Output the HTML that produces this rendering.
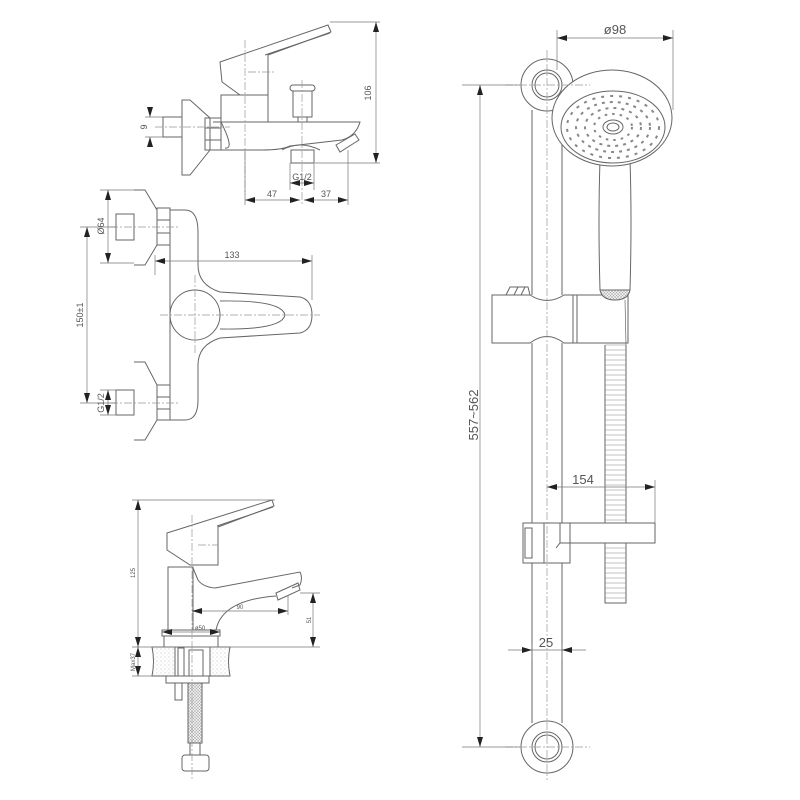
<!DOCTYPE html>
<html><head><meta charset="utf-8"><style>
html,body{margin:0;padding:0;background:#fff}
svg{display:block}
text{font-family:"Liberation Sans",sans-serif;fill:#555}
</style></head><body>
<svg width="800" height="800" viewBox="0 0 800 800" xmlns="http://www.w3.org/2000/svg">
<defs>
<marker id="a" viewBox="0 0 10 6" refX="10" refY="3" markerWidth="10" markerHeight="6" orient="auto-start-reverse" markerUnits="userSpaceOnUse"><path d="M0,0L10,3L0,6z" fill="#222"/></marker>
<pattern id="st" width="4" height="4" patternUnits="userSpaceOnUse"><rect width="4" height="4" fill="#fff"/><circle cx="1" cy="1" r=".5" fill="#aaa"/><circle cx="3" cy="3" r=".4" fill="#bbb"/></pattern>
<pattern id="hx" width="3" height="3" patternUnits="userSpaceOnUse"><rect width="3" height="3" fill="#eee"/><path d="M0,0L3,3M3,0L0,3" stroke="#aaa" stroke-width=".5"/></pattern>
</defs>
<g fill="none" stroke="#666" stroke-width="1">

<path d="M220,62 L328,25 L331,32 L268,55 L268,95 L240,95 L222,82 Z"/>
<path d="M265,55 L330,33"/>
<rect x="221" y="95" width="47" height="27"/>
<path d="M213,122 L360,122 Q356,136 342,140 L290,146 Q282,150 262,150 L232,150 Q225,150 221,150"/>
<path d="M221,122 Q235,150 225,148"/>
<path d="M336,145 L355,134 L359,140 L340,152 Z"/>
<path d="M282,150 Q300,140 320,150"/>
<rect x="291" y="150" width="23" height="13"/>
<rect x="290" y="85" width="25" height="6" rx="3"/>
<rect x="293" y="91" width="19" height="26"/>
<rect x="298" y="117" width="9" height="5"/>
<path d="M182,100 L190,100 L210,118 L210,150 L190,175 L182,175 Z"/>
<rect x="205" y="118" width="16" height="32"/>
<path d="M205,128 L221,128 M205,140 L221,140"/>
<rect x="163" y="117" width="19" height="20"/>
<g stroke="#999" stroke-dasharray="8,2,2,2" stroke-width=".7">
<path d="M245,40 L245,195 M302,80 L302,205 M155,127 L230,127 M248,72 L275,72"/>
</g>
<g stroke="#777" stroke-width=".7">
<path d="M330,22 L380,22 M315,163 L380,163 M348,150 L348,205 M245,150 L245,205 M290,163 L290,190 M314,163 L314,190 M145,117 L163,117 M145,137 L163,137"/>
<path d="M376,22 L376,163" marker-start="url(#a)" marker-end="url(#a)"/>
<path d="M245,200 L300,200" marker-start="url(#a)" marker-end="url(#a)"/>
<path d="M304,200 L348,200" marker-start="url(#a)" marker-end="url(#a)"/>
<path d="M290,183 L314,183" marker-start="url(#a)" marker-end="url(#a)"/>
<path d="M150,110 L150,117" marker-end="url(#a)"/>
<path d="M150,144 L150,137" marker-end="url(#a)"/>
</g>

<path d="M170,210 L185,210 Q198,210 198,232 L198,265 Q198,285 220,292 L300,297 Q312,300 312,315 Q312,330 300,333 L220,338 Q198,345 198,365 L198,400 Q198,420 185,420 L170,420 Z"/>
<circle cx="195" cy="315" r="25"/>
<path d="M220,301 Q282,300 285,315 Q282,330 220,329"/>
<path d="M134,190 L145,190 L157,210 L157,245 L145,265 L134,265"/>
<rect x="157" y="208" width="13" height="37"/>
<path d="M157,220 L170,220 M157,233 L170,233"/>
<rect x="116" y="214" width="18" height="26"/>
<path d="M134,362 L145,362 L157,385 L157,420 L145,440 L134,440"/>
<rect x="157" y="385" width="13" height="35"/>
<path d="M157,397 L170,397 M157,409 L170,409"/>
<rect x="116" y="390" width="18" height="25"/>
<g stroke="#999" stroke-dasharray="8,2,2,2" stroke-width=".7">
<path d="M160,315 L320,315 M195,275 L195,355 M110,227 L180,227 M110,403 L180,403"/>
</g>
<g stroke="#777" stroke-width=".7">
<path d="M80,227 L116,227 M80,403 L116,403 M100,190 L134,190 M100,263 L134,263 M312,255 L312,300 M155,255 L155,275 M100,390 L116,390 M100,415 L116,415"/>
<path d="M87,227 L87,403" marker-start="url(#a)" marker-end="url(#a)"/>
<path d="M108,190 L108,263" marker-start="url(#a)" marker-end="url(#a)"/>
<path d="M108,390 L108,415" marker-start="url(#a)" marker-end="url(#a)"/>
<path d="M155,261 L312,261" marker-start="url(#a)" marker-end="url(#a)"/>
</g>

<path d="M167,533 L272,500 L274,506 L218,527 L218,565 L190,565 L167,550 Z"/>
<path d="M217,526 L273,507"/>
<rect x="168" y="567" width="25" height="63"/>
<path d="M193,568 L198,580 Q203,587 215,588 L300,572 Q303,578 300,585 L292,588"/>
<path d="M276,593 L298,583 L300,590 L278,600 Z"/>
<path d="M216,630 Q222,600 276,596"/>
<rect x="162" y="630" width="58" height="6"/>
<rect x="164" y="636" width="54" height="11"/>
<path d="M152,647 L175,647 L175,676 L152,676 Q155,661 152,647 Z" fill="url(#st)"/>
<path d="M210,647 L230,647 Q227,661 230,676 L210,676 Z" fill="url(#st)"/>
<rect x="178" y="648" width="6" height="28"/>
<rect x="189" y="650" width="14" height="26"/>
<rect x="166" y="676" width="43" height="7"/>
<rect x="175" y="683" width="7" height="17"/>
<rect x="188" y="683" width="14" height="60" fill="url(#hx)"/>
<rect x="190" y="743" width="10" height="12"/>
<rect x="182" y="755" width="27" height="16" rx="3"/>
<g stroke="#999" stroke-dasharray="8,2,2,2" stroke-width=".7">
<path d="M192,515 L192,780 M198,545 L218,545"/>
</g>
<g stroke="#777" stroke-width=".7">
<path d="M132,500 L275,500 M132,647 L320,647 M132,676 L152,676 M300,593 L320,593 M288,595 L288,615"/>
<path d="M138,500 L138,647" marker-start="url(#a)" marker-end="url(#a)"/>
<path d="M138,647 L138,676" marker-start="url(#a)" marker-end="url(#a)"/>
<path d="M313,593 L313,647" marker-start="url(#a)" marker-end="url(#a)"/>
<path d="M192,611 L288,611" marker-start="url(#a)" marker-end="url(#a)"/>
<path d="M162,632 L220,632" marker-start="url(#a)" marker-end="url(#a)"/>
</g>

<path d="M532,110 L532,295 M562,110 L562,295 M532,343 L532,723 M562,343 L562,723"/>
<circle cx="547" cy="85" r="26"/><circle cx="547" cy="85" r="15"/><circle cx="547" cy="85" r="12"/>
<circle cx="547" cy="747" r="26"/><circle cx="547" cy="747" r="15"/><circle cx="547" cy="747" r="12"/>
<path d="M492,295 L530,295 Q547,306 564,295 L628,295 L628,343 L564,343 Q547,330 530,343 L492,343 Z"/>
<path d="M573,295 L573,343 M577,295 L577,343"/>
<path d="M506,295 L510,287 L528,287 L530,295 M514,295 L518,287 M521,295 L525,287"/>
<path d="M605,345 L605,603 L626,603 L626,345" />
<path d="M605,345 L626,345 M605,350 L626,350 M605,355 L626,355 M605,360 L626,360 M605,365 L626,365 M605,370 L626,370 M605,375 L626,375 M605,380 L626,380 M605,385 L626,385 M605,390 L626,390 M605,395 L626,395 M605,400 L626,400 M605,405 L626,405 M605,410 L626,410 M605,415 L626,415 M605,420 L626,420 M605,425 L626,425 M605,430 L626,430 M605,435 L626,435 M605,440 L626,440 M605,445 L626,445 M605,450 L626,450 M605,455 L626,455 M605,460 L626,460 M605,465 L626,465 M605,470 L626,470 M605,475 L626,475 M605,480 L626,480 M605,485 L626,485 M605,490 L626,490 M605,495 L626,495 M605,500 L626,500 M605,505 L626,505 M605,510 L626,510 M605,515 L626,515 M605,520 L626,520 M605,548 L626,548 M605,553 L626,553 M605,558 L626,558 M605,563 L626,563 M605,568 L626,568 M605,573 L626,573 M605,578 L626,578 M605,583 L626,583 M605,588 L626,588 M605,593 L626,593 M605,598 L626,598" stroke-width=".6" stroke="#888"/>
<rect x="523" y="523" width="47" height="40" fill="#fff"/>
<rect x="525" y="528" width="7" height="30"/>
<path d="M544,523 L544,563 M556,548 Q562,540 568,535"/>
<rect x="560" y="523" width="95" height="20" fill="#fff"/>
<path d="M570,523 L570,543"/>
<path d="M600,160 Q598,220 600,290 L630,290 Q632,220 630,160" fill="#fff"/>
<path d="M600,290 Q602,300 615,300 Q628,300 630,290 Z" fill="url(#hx)"/>
<path d="M625,300 L626,345" stroke-width=".7"/>
<ellipse cx="612" cy="118" rx="60" ry="48" fill="#fff"/>
<ellipse cx="613" cy="127" rx="52" ry="36"/>
<g stroke="#888">
<ellipse cx="613" cy="127" rx="46" ry="31" stroke-dasharray="3,6" stroke-width="2"/>
<ellipse cx="613" cy="127" rx="37" ry="25" stroke-dasharray="3,5" stroke-width="2"/>
<ellipse cx="613" cy="127" rx="28" ry="19" stroke-dasharray="3,5" stroke-width="2"/>
<ellipse cx="613" cy="127" rx="19" ry="13" stroke-dasharray="2.5,5" stroke-width="2"/>
</g>
<ellipse cx="613" cy="127" rx="10" ry="7"/>
<ellipse cx="613" cy="127" rx="6" ry="4"/>
<g stroke="#999" stroke-dasharray="8,2,2,2" stroke-width=".7">
<path d="M547,50 L547,780 M505,85 L590,85 M505,747 L590,747"/>
</g>
<g stroke="#777" stroke-width=".7">
<path d="M557,30 L557,70 M673,30 L673,110 M462,85 L520,85 M462,747 L520,747 M655,480 L655,523 M532,643 L532,660 M562,643 L562,660"/>
<path d="M557,38 L673,38" marker-start="url(#a)" marker-end="url(#a)"/>
<path d="M480,85 L480,747" marker-start="url(#a)" marker-end="url(#a)"/>
<path d="M547,487 L655,487" marker-start="url(#a)" marker-end="url(#a)"/>
<path d="M508,650 L532,650" marker-end="url(#a)"/>
<path d="M586,650 L562,650" marker-end="url(#a)"/>
<path d="M532,650 L562,650"/>
</g>
</g>

<g font-size="9">
<text x="371" y="93" transform="rotate(-90 371 93)" text-anchor="middle">106</text>
<text x="150" y="127" transform="rotate(-90 150 127)" text-anchor="middle" dy="-3">9</text>
<text x="302" y="180" text-anchor="middle">G1/2</text>
<text x="272" y="197" text-anchor="middle">47</text>
<text x="326" y="197" text-anchor="middle">37</text>
<text x="232" y="258" text-anchor="middle">133</text>
<text x="104" y="226" transform="rotate(-90 104 226)" text-anchor="middle">Ø64</text>
<text x="83" y="315" transform="rotate(-90 83 315)" text-anchor="middle">150±1</text>
<text x="104" y="403" transform="rotate(-90 104 403)" text-anchor="middle">G1/2</text>
</g>
<g font-size="6">
<text x="135" y="573" transform="rotate(-90 135 573)" text-anchor="middle">125</text>
<text x="135" y="662" transform="rotate(-90 135 662)" text-anchor="middle">Max37</text>
<text x="311" y="620" transform="rotate(-90 311 620)" text-anchor="middle">51</text>
<text x="240" y="609" text-anchor="middle">90</text>
<text x="200" y="630" text-anchor="middle">ø50</text>
</g>
<g font-size="13">
<text x="615" y="34" text-anchor="middle">ø98</text>
<text x="583" y="484" text-anchor="middle">154</text>
<text x="546" y="647" text-anchor="middle">25</text>
<text x="478" y="415" transform="rotate(-90 478 415)" text-anchor="middle">557~562</text>
</g>
</svg>
</body></html>
